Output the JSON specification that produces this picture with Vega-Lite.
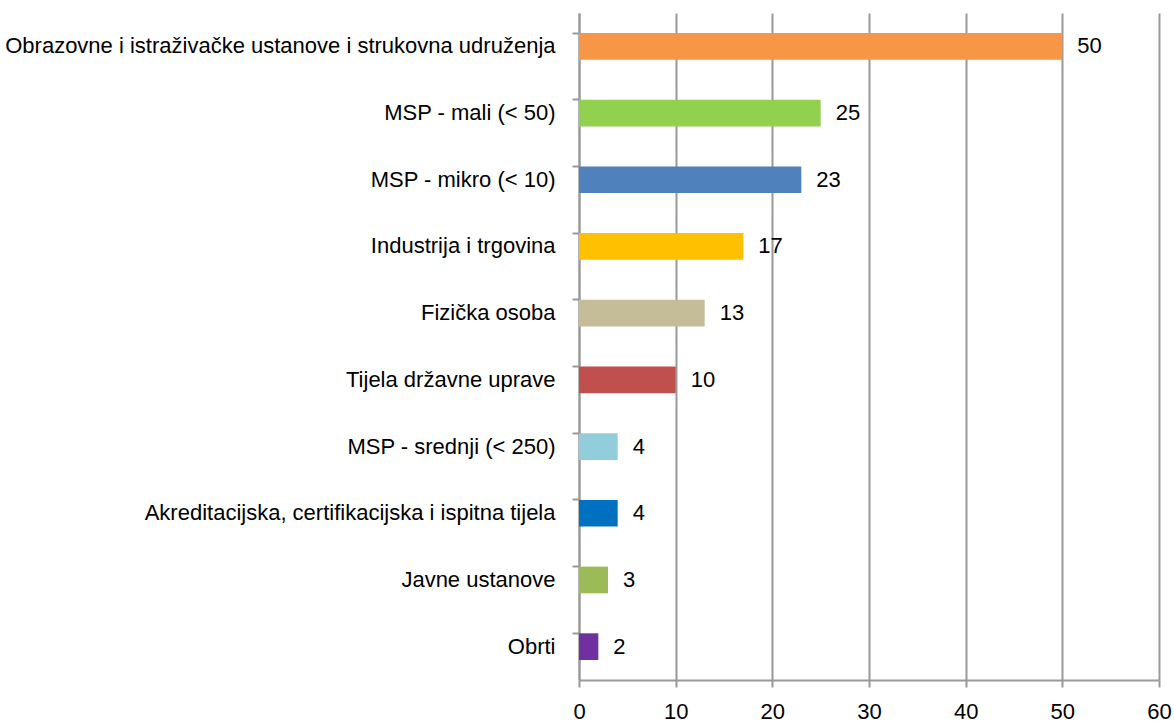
{
  "$schema": "https://vega.github.io/schema/vega-lite/v6.json",
  "autosize": "none",
  "width": 580,
  "height": 667,
  "padding": {"left": 579, "top": 13, "right": 15, "bottom": 44},
  "background": "white",
  "data": {
    "values": [
      {"kategorija": "Obrazovne i istraživačke ustanove i strukovna udruženja", "broj": 50, "boja": "#F79646"},
      {"kategorija": "MSP - mali (< 50)", "broj": 25, "boja": "#92D050"},
      {"kategorija": "MSP - mikro (< 10)", "broj": 23, "boja": "#4F81BD"},
      {"kategorija": "Industrija i trgovina", "broj": 17, "boja": "#FFC000"},
      {"kategorija": "Fizička osoba", "broj": 13, "boja": "#C4BD97"},
      {"kategorija": "Tijela državne uprave", "broj": 10, "boja": "#C0504D"},
      {"kategorija": "MSP - srednji (< 250)", "broj": 4, "boja": "#92CDDC"},
      {"kategorija": "Akreditacijska, certifikacijska i ispitna tijela", "broj": 4, "boja": "#0070C0"},
      {"kategorija": "Javne ustanove", "broj": 3, "boja": "#9BBB59"},
      {"kategorija": "Obrti", "broj": 2, "boja": "#7030A0"}
    ]
  },
  "config": {
    "view": {"stroke": null},
    "font": "Liberation Sans"
  },
  "encoding": {
    "y": {
      "field": "kategorija",
      "type": "nominal",
      "sort": null,
      "title": null,
      "scale": {"paddingInner": 0.6, "paddingOuter": 0.3},
      "axis": {
        "bandPosition": 0,
        "domainColor": "#999999",
        "domainWidth": 2,
        "tickColor": "#999999",
        "tickWidth": 2,
        "tickSize": 7,
        "labelFont": "Liberation Sans",
        "labelFontSize": 22,
        "labelColor": "#000000",
        "labelPadding": 17,
        "labelLimit": 600,
        "grid": false
      }
    },
    "x": {
      "field": "broj",
      "type": "quantitative",
      "title": null,
      "scale": {"domain": [0, 60], "nice": false},
      "axis": {
        "values": [0, 10, 20, 30, 40, 50, 60],
        "grid": true,
        "gridColor": "#999999",
        "gridWidth": 2,
        "domainColor": "#999999",
        "domainWidth": 2,
        "tickColor": "#999999",
        "tickWidth": 2,
        "tickSize": 7,
        "labelFont": "Liberation Sans",
        "labelFontSize": 22,
        "labelColor": "#000000",
        "labelPadding": 14,
        "labelFlush": false
      }
    }
  },
  "layer": [
    {
      "mark": {"type": "bar"},
      "encoding": {
        "color": {"field": "boja", "type": "nominal", "scale": null, "legend": null}
      }
    },
    {
      "mark": {"type": "text", "align": "left", "baseline": "middle", "dx": 15, "fontSize": 22, "font": "Liberation Sans", "color": "#000000"},
      "encoding": {
        "text": {"field": "broj", "type": "quantitative"}
      }
    }
  ]
}
